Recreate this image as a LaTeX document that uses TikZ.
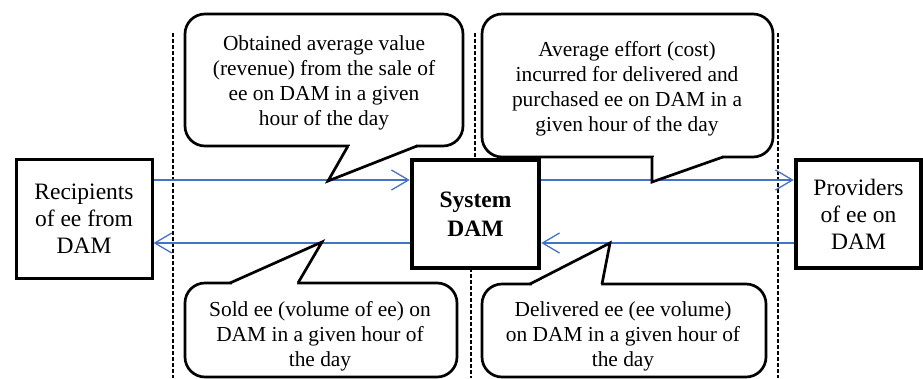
\documentclass[tikz,border=0pt]{standalone}
\usepackage{fontspec}
\setmainfont{Liberation Serif}
\usetikzlibrary{arrows.meta}
\definecolor{flowblue}{RGB}{68,114,196}
\tikzset{
  party/.style={draw, fill=white, line width=3pt, align=center, inner sep=0pt,
    font=\fontsize{23.5}{27}\selectfont},
  market/.style={party, line width=4.5pt, font=\fontsize{23.5}{28.5}\selectfont\bfseries},
  bubble/.style={draw, fill=white, line width=2.7pt, rounded corners=20pt, inner sep=0pt},
  note/.style={align=center, inner sep=0pt, font=\fontsize{21.4}{25}\selectfont},
  flow/.style={->, draw=flowblue, line width=1.3pt},
  border/.style={dashed, dash pattern=on 4pt off 2pt, line width=1.3pt},
  tail/.style={draw, fill=white, line width=2.7pt, line join=miter}
}
\begin{document}
\begin{tikzpicture}[x=1pt, y=-1pt, >={Straight Barb[length=17pt,width=20pt]}]
    \useasboundingbox (0,0) rectangle (923,378);
    % market borders
    \draw [border] (173,33) -- (173,378);
    \draw [border] (475,33) -- (475,160);
    \draw [border] (471,268) -- (471,378);
    \draw [border] (778,33) -- (778,378);
    % parties
    \node [party, minimum width=136pt, minimum height=119pt] (rec) at (84,218.5) {Recipients\\of ee from\\DAM};
    \node [market, minimum width=127pt, minimum height=108pt] (sys) at (475.5,214) {System\\DAM};
    \node [party, line width=4.5pt, minimum width=125pt, minimum height=108pt] (prov) at (858.5,214) {Providers\\of ee on\\DAM};
    % flows
    \coordinate (upper) at (0,180);
    \coordinate (lower) at (0,243);
    \draw [flow] (rec.east |- upper) -- (sys.west |- upper);
    \draw [flow] (sys.east |- upper) -- (prov.west |- upper);
    \draw [flow] (sys.west |- lower) -- (rec.east |- lower);
    \draw [flow] (prov.west |- lower) -- (sys.east |- lower);
    % callouts
    \node [bubble, minimum width=278pt, minimum height=132pt] (revbox) at (324,80) {};
    \draw [white, line width=3.5pt] (349.5,146) -- (415.5,146);
    \filldraw [tail] (348,146) -- (328,181) -- (417,146);
    \node [note] (rev) at (324,83) {Obtained average value\\(revenue) from the sale of\\ee on DAM in a given\\hour of the day};

    \node [bubble, minimum width=291pt, minimum height=143pt] (costbox) at (627.5,85.5) {};
    \draw [white, line width=3.5pt] (653.5,157) -- (721.5,157);
    \filldraw [tail] (652,157) -- (652,182) -- (723,157);
    \node [note] (cost) at (627,89) {Average effort (cost)\\incurred for delivered and\\purchased ee on DAM in a\\given hour of the day};

    \node [bubble, minimum width=272pt, minimum height=94pt] (soldbox) at (321,330) {};
    \draw [white, line width=3.5pt] (231.5,283) -- (296.5,283);
    \filldraw [tail] (230,283) -- (322,242) -- (298,283);
    \node [note] (sold) at (320,336) {Sold ee (volume of ee) on\\DAM in a given hour of\\the day};

    \node [bubble, minimum width=284pt, minimum height=93pt] (delbox) at (624,330.5) {};
    \draw [white, line width=3.5pt] (531.5,284) -- (600.5,284);
    \filldraw [tail] (530,284) -- (610,243) -- (602,284);
    \node [note] (del) at (623,336) {Delivered ee (ee volume)\\on DAM in a given hour of\\the day};
\end{tikzpicture}
\end{document}
